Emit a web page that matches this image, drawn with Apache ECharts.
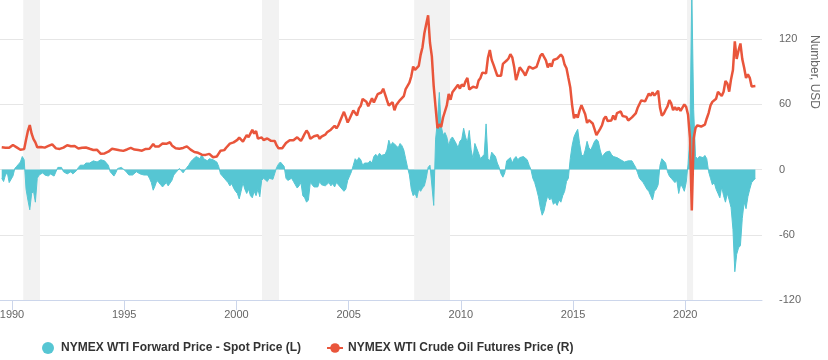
<!DOCTYPE html>
<html>
<head>
<meta charset="utf-8">
<script src="https://cdn.jsdelivr.net/npm/echarts@6/dist/echarts.min.js"></script>
<style>
html,body{margin:0;padding:0;background:#fff;}
#chart{width:828px;height:360px;}
</style>
</head>
<body>
<div id="chart"></div>
<script>
// Monthly observations starting July 1989
const firstYear = 1989;
const firstMonth = 7;

// NYMEX WTI crude oil futures price (R), USD
const futuresPrice = [
  20.5, 19.5, 20.0, 20.5, 20.0, 21.5,
  22.6, 22.0, 20.4, 18.6, 18.2, 17.0, 18.8, 27.5, 35.5, 41.0, 33.0, 28.0,
  25.0, 20.5, 19.9, 20.8, 21.2, 20.2, 21.4, 21.7, 21.9, 23.2, 22.5, 19.5,
  18.8, 19.0, 18.9, 20.2, 20.9, 22.4, 21.8, 21.4, 21.9, 21.7, 20.3, 19.4,
  19.1, 20.1, 20.3, 20.3, 19.9, 19.1, 17.9, 18.0, 17.5, 18.2, 16.7, 14.5,
  15.0, 14.8, 14.7, 16.4, 17.9, 19.1, 19.7, 18.4, 17.5, 17.7, 18.1, 17.2,
  18.0, 18.5, 18.6, 19.9, 19.7, 18.4, 17.3, 17.9, 18.0, 17.4, 18.0, 19.0,
  18.9, 19.1, 21.3, 23.5, 21.2, 20.4, 21.3, 21.9, 23.9, 24.9, 23.7, 25.2,
  25.1, 22.2, 21.0, 19.7, 20.8, 19.2, 19.6, 19.9, 19.8, 21.3, 20.2, 18.3,
  16.7, 16.1, 15.0, 15.4, 14.9, 13.7, 14.2, 13.5, 15.0, 14.4, 12.9, 11.3,
  12.5, 12.0, 14.7, 17.3, 17.8, 17.9, 20.1, 21.3, 23.9, 22.6, 25.0, 26.1,
  27.3, 29.4, 29.9, 25.7, 28.8, 31.8, 29.8, 31.2, 36.5, 33.1, 35.5, 28.5,
  29.6, 29.6, 27.2, 27.4, 28.6, 27.6, 26.4, 27.4, 26.2, 22.2, 19.6, 19.4,
  19.7, 20.7, 24.5, 26.2, 27.0, 25.5, 26.9, 28.4, 29.7, 28.9, 26.3, 29.4,
  32.9, 35.9, 33.5, 28.3, 28.1, 30.7, 30.8, 31.6, 28.3, 30.3, 31.1, 32.1,
  34.3, 34.7, 36.7, 36.7, 40.3, 38.0, 40.7, 44.9, 45.9, 53.1, 48.5, 43.3,
  46.8, 48.0, 54.3, 53.0, 49.8, 56.3, 58.7, 65.0, 65.6, 62.4, 58.3, 59.4,
  65.5, 61.6, 62.7, 69.4, 70.8, 70.9, 74.4, 73.0, 63.8, 58.9, 59.1, 62.0,
  54.5, 59.3, 60.4, 63.9, 63.5, 67.5, 74.1, 72.4, 79.9, 85.8, 94.8, 91.7,
  93.0, 95.4, 105.5, 112.6, 125.4, 134.0, 142.0, 116.7, 104.1, 76.6, 57.3, 38.0,
  41.7, 39.1, 47.9, 49.7, 59.0, 69.6, 64.2, 71.1, 69.4, 75.7, 78.0, 74.5,
  78.3, 76.4, 81.2, 84.3, 73.7, 75.3, 76.3, 76.6, 75.2, 81.9, 84.3, 89.2,
  89.2, 88.6, 102.9, 110.0, 100.9, 96.3, 97.3, 86.3, 85.5, 86.3, 97.2, 98.6,
  100.3, 102.2, 106.2, 103.3, 94.7, 82.3, 87.9, 94.1, 94.5, 89.5, 86.5, 87.9,
  94.8, 95.3, 92.9, 92.0, 94.5, 95.8, 104.6, 106.6, 106.3, 100.5, 93.9, 97.6,
  94.6, 100.8, 100.8, 102.1, 102.2, 105.8, 103.6, 96.5, 93.2, 84.4, 75.8, 59.3,
  47.2, 50.6, 47.8, 54.5, 59.3, 59.8, 50.9, 42.9, 45.5, 46.2, 42.4, 37.2,
  31.7, 30.3, 37.5, 40.8, 46.7, 48.8, 44.7, 44.7, 45.2, 49.8, 45.7, 52.0,
  52.5, 53.5, 49.3, 51.1, 48.5, 45.2, 46.6, 48.0, 49.8, 51.6, 56.6, 57.9,
  63.7, 62.2, 62.7, 66.3, 70.0, 67.9, 71.0, 68.1, 70.2, 72.5, 57.0, 49.5,
  51.4, 55.0, 58.2, 63.9, 60.8, 54.7, 57.4, 54.8, 57.0, 54.0, 57.0, 59.9,
  57.5, 50.5, 29.2, -37.6, 28.6, 38.3, 40.7, 42.3, 39.6, 39.4, 41.4, 47.0,
  52.0, 59.0, 62.3, 61.7, 65.2, 71.4, 72.5, 67.7, 71.6, 81.5, 79.2, 71.7,
  83.2, 91.6, 118.0, 101.8, 109.6, 116.0, 101.6, 93.7, 84.3, 87.6, 84.4, 76.4,
  78.1, 76.8
];

// NYMEX WTI forward price minus spot price (L)
const forwardSpread = [
  -8, -11, -5, -3, -12, -13,
  -6, 1, 3, 5, 7, 12, 9, -18, -28, -37, -22, -20,
  -30, -8, -5, -4, -3, -5, -4, -6, -4, -5, -6, -2,
  2, 1, 2, -2, -3, -4, -3, -2, -4, -3, -1, 2,
  4, 5, 4, 6, 7, 6, 7, 8, 8, 7, 8, 9,
  9, 8, 8, 4, -2, -4, -6, -3, 1, 0, 2, 3,
  -1, -3, -5, -6, -5, -4, -2, -3, -4, -3, -5, -6,
  -5, -8, -12, -19, -15, -10, -12, -14, -16, -17, -12, -15,
  -16, -10, -5, -3, -2, 1, -1, -3, -2, 2, 4, 7,
  9, 10, 12, 11, 10, 14, 10, 9, 8, 10, 11, 9,
  8, 7, 3, -4, -6, -8, -10, -12, -15, -13, -17, -20,
  -22, -27, -20, -12, -18, -22, -18, -24, -26, -20, -24, -18,
  -25, -10, -8, -9, -11, -8, -7, -9, -8, 2, 5, 7,
  6, 3, -8, -10, -9, -8, -11, -14, -17, -15, -12, -24,
  -26, -30, -28, -12, -14, -16, -15, -16, -11, -14, -14, -15,
  -14, -12, -15, -13, -16, -12, -14, -16, -15, -20, -18, -10,
  -6, -2, 4, 10, 8, 11, 9, 4, 6, 5, 6, 8,
  6, 12, 14, 12, 15, 13, 12, 14, 18, 27, 22, 25,
  26, 22, 20, 24, 22, 18, 10, 2, -5, -18, -24, -22,
  -26, -18, -20, -17, -15, -8, 2, 4, 3, -33, 28, 45,
  71, 40, 32, 34, 30, 22, 28, 30, 31, 24, 20, 26,
  28, 38, 30, 25, 36, 18, 10, 24, 25, 15, 10, 12,
  14, 42, 10, 8, 16, 14, 12, 6, 2, -4, -7, -3,
  8, 9, 11, 6, 10, 12, 9, 11, 10, 12, 11, 9,
  4, 0, -8, -12, -18, -25, -35, -42, -38, -30, -24, -28,
  -26, -32, -30, -33, -28, -30, -24, -20, -11, -8, 10, 22,
  30, 34, 37, 24, 14, 12, 18, 26, 20, 18, 22, 26,
  28, 26, 18, 12, 14, 16, 15, 17, 14, 12, 13, 11,
  10, 9, 8, 7, 8, 8, 7, 8, 5, 2, -3, -8,
  -10, -12, -15, -18, -20, -24, -28, -20, -18, -14, 4, 10,
  10, 6, -2, -6, -8, -10, -12, -10, -22, -14, -16, -20,
  -12, 5, 30, 165, 55, 12, 10, 12, 13, 11, 13, 10,
  -2, -8, -14, -12, -18, -22, -26, -16, -24, -30, -22, -28,
  -35, -55, -94, -78, -72, -70, -45, -30, -36, -25, -18, -12,
  -10, -8
];

// Recession periods (decimal years)
const recessions = [
  [1990.5, 1991.25],
  [2001.14, 2001.9],
  [2007.92, 2009.52],
  [2020.08, 2020.35]
];

const yearTicks = [1990, 1995, 2000, 2005, 2010, 2015, 2020];

const seriesNames = [
  'NYMEX WTI Forward Price - Spot Price (L)',
  'NYMEX WTI Crude Oil Futures Price (R)'
];

const TEAL = '#56c6d3';
const RED = '#e9553b';

function monthDate(i) {
  const m = firstMonth - 1 + i;
  return firstYear + (m + 0.5) / 12;
}

const spreadData = forwardSpread.map((v, i) => [monthDate(i), v]);
const priceData = futuresPrice.map((v, i) => [monthDate(i), v]);

const chart = echarts.init(document.getElementById('chart'));
const fontFamily = '"Liberation Sans", Arial, sans-serif';

chart.setOption({
  animation: false,
  textStyle: { fontFamily: fontFamily },
  grid: { left: 0, right: 66, top: 0, bottom: 60, containLabel: false, outerBoundsMode: 'none' },
  legend: {
    left: 37,
    top: 337,
    itemGap: 25,
    itemWidth: 16,
    itemHeight: 12,
    textStyle: { fontSize: 12, fontWeight: 'bold', color: '#333', fontFamily: fontFamily },
    data: [
      { name: seriesNames[0], icon: 'circle' },
      { name: seriesNames[1] }
    ]
  },
  xAxis: {
    type: 'value',
    min: 1989.465,
    max: 2023.42,
    axisLine: { onZero: false, lineStyle: { color: '#ccd6eb', width: 1 } },
    axisTick: { show: true, length: 10, customValues: yearTicks, lineStyle: { color: '#ccd6eb' } },
    axisLabel: {
      customValues: yearTicks, color: '#666', fontSize: 11, margin: 9,
      formatter: v => String(Math.round(v))
    },
    splitLine: { show: false }
  },
  yAxis: [
    {
      type: 'value', position: 'left', min: -120, max: 156, interval: 60, show: false,
      splitLine: { show: false }
    },
    {
      type: 'value', position: 'right', min: -120, max: 156, interval: 60,
      axisLine: { show: false },
      axisTick: { show: false },
      axisLabel: { color: '#666', fontSize: 11, margin: 17, showMaxLabel: false },
      splitLine: { show: true, showMaxLine: false, showMinLine: false, lineStyle: { color: '#e6e6e6', width: 1 } }
    }
  ],
  graphic: [
    {
      type: 'text',
      x: 814,
      y: 72,
      rotation: -Math.PI / 2,
      style: {
        text: 'Number, USD',
        fill: '#666',
        font: '12px ' + fontFamily,
        align: 'center',
        verticalAlign: 'middle'
      }
    }
  ],
  series: [
    {
      name: 'recessions',
      type: 'line',
      data: [],
      z: 0,
      silent: true,
      markArea: {
        silent: true,
        itemStyle: { color: '#f2f2f2' },
        data: recessions.map(r => [{ xAxis: r[0] }, { xAxis: r[1] }])
      }
    },
    {
      name: seriesNames[0],
      type: 'line',
      yAxisIndex: 0,
      data: spreadData,
      showSymbol: false,
      symbol: 'circle',
      lineStyle: { width: 1, color: TEAL },
      itemStyle: { color: TEAL },
      areaStyle: { color: TEAL, opacity: 1 },
      z: 2
    },
    {
      name: seriesNames[1],
      type: 'line',
      yAxisIndex: 1,
      data: priceData,
      showSymbol: false,
      symbol: 'circle',
      lineStyle: { width: 2.5, color: RED },
      itemStyle: { color: RED },
      z: 3
    }
  ]
});
</script>
</body>
</html>
